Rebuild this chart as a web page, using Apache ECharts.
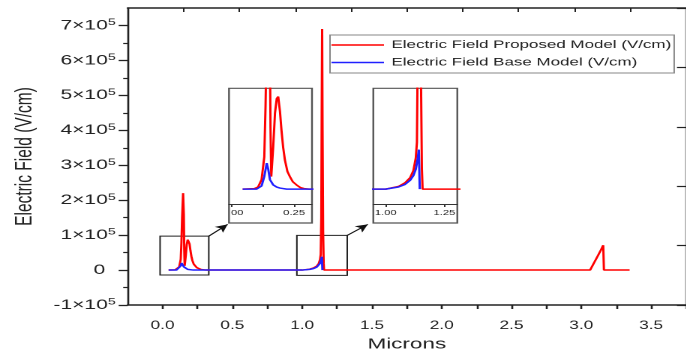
<!DOCTYPE html>
<html><head><meta charset="utf-8">
<script src="https://cdn.jsdelivr.net/npm/echarts@6/dist/echarts.min.js"></script>
<style>
html,body{margin:0;padding:0;background:#fff;overflow:hidden;width:686px;height:359px;}
#c{width:457.333px;height:359px;transform:scaleX(1.5);transform-origin:0 0;}
</style></head><body><div id="c"></div>
<script>
// ---- data (microns, V/cm) ----
const redX = [0.043, 0.090, 0.105, 0.119, 0.130, 0.135, 0.140, 0.147, 0.152, 0.155, 0.158, 0.166, 0.173, 0.180, 0.186, 0.193, 0.199, 0.206, 0.213, 0.223, 0.233, 0.245, 0.260, 0.275, 0.290, 0.310, 1.000, 1.054, 1.082, 1.104, 1.118, 1.128, 1.133, 1.137, 1.140, 1.143, 1.146, 1.150, 1.154, 1.157, 3.063, 3.090, 3.120, 3.140, 3.157, 3.162, 3.346];
const redY = [0, 500, 2000, 9000, 31000, 80000, 150000, 220000, 160000, 60000, 12000, 41000, 73000, 87000, 89000, 75000, 57000, 40000, 28000, 17000, 12000, 7000, 4000, 1500, 500, 0, 0, 2500, 6000, 11000, 18000, 30000, 45000, 150000, 450000, 690000, 400000, 110000, 20000, 0, 0, 20000, 42000, 57000, 71000, 0, 0];
const blueX = [0.043, 0.099, 0.110, 0.119, 0.130, 0.136, 0.140, 0.143, 0.146, 0.153, 0.166, 0.180, 0.193, 0.220, 1.000, 1.054, 1.082, 1.104, 1.118, 1.128, 1.136, 1.141, 1.145];
const blueY = [0, 0, 1000, 3000, 12000, 20000, 25000, 22000, 19000, 9000, 4000, 2000, 1000, 0, 0, 2000, 4500, 8500, 13000, 19000, 29000, 38000, 0];
const seriesNames = ['Electric Field Proposed Model (V/cm)', 'Electric Field Base Model (V/cm)'];

const xTickValues = [0, 0.25, 0.5, 0.75, 1.0, 1.25, 1.5, 1.75, 2.0, 2.25, 2.5, 2.75, 3.0, 3.25, 3.5, 3.75];
const xLabelValues = [0, 0.5, 1.0, 1.5, 2.0, 2.5, 3.0, 3.5];
const xLabels = ['0.0', '0.5', '1.0', '1.5', '2.0', '2.5', '3.0', '3.5'];
const yLabelValues = [-100000, 0, 100000, 200000, 300000, 400000, 500000, 600000, 700000];
const yLabels = ['-1×10^5', '0', '1×10^5', '2×10^5', '3×10^5', '4×10^5', '5×10^5', '6×10^5', '7×10^5'];
const yMinorValues = [-50000, 50000, 150000, 250000, 350000, 450000, 550000, 650000];

// zoom windows (x range, y range) shown as boxes and insets
const zoomBox1 = [[-0.018, -14300], [0.331, 97200]];
const zoomBox2 = [[0.962, -15200], [1.323, 99300]];
const inset1XRange = [-0.012, 0.322];
const inset2XRange = [0.947, 1.305];
const insetYRange = [-32600, 97000];
const inset1Ticks = [0, 0.125, 0.25];
const inset1Labels = ['00', '', '0.25'];
const inset2Ticks = [1.0, 1.125, 1.25];
const inset2Labels = ['1.00', '', '1.25'];
// arrows from boxes to insets
const arrow1 = [[0.331, 97200], [0.466, 130700]];
const arrow2 = [[1.323, 99300], [1.470, 130700]];

const FONT = '"Liberation Sans", Arial, Helvetica, sans-serif';
const INK = '#222';
const RED = '#ff0000';
const BLUE = '#2020ff';

const red = redX.map((x, i) => [x, redY[i]]);
const blue = blueX.map((x, i) => [x, blueY[i]]);

function pick(values, labels) {
  return function (v) {
    for (let i = 0; i < values.length; i++) if (Math.abs(values[i] - v) < 1e-6) return labels[i];
    return '';
  };
}
const xFmt = pick(xLabelValues, xLabels);
const yPick = pick(yLabelValues, yLabels);
const yFmt = function (v) {
  const s = yPick(v);
  if (!s) return '';
  if (s.indexOf('^') >= 0) { const p = s.split('^'); return '{b|' + p[0] + '}{s|' + p[1] + '}'; }
  return '{z|' + s + '}';
};
const in1Pick = pick(inset1Ticks, inset1Labels);
const in1Fmt = function (v) { const s = in1Pick(v); return s === '00' ? '{l|' + s + '}' : s; };
const in2Fmt = pick(inset2Ticks, inset2Labels);

const W = 686 / 1.5;
const chart = echarts.init(document.getElementById('c'), null, { width: W, height: 359, devicePixelRatio: 2 });

const lineSeries = (name, data, color, xi, yi, extra) => Object.assign({
  type: 'line', name: name, data: data, xAxisIndex: xi, yAxisIndex: yi,
  symbol: 'none', smooth: false, clip: true,
  lineStyle: { color: color, width: 1.5 }, itemStyle: { color: color }
}, extra || {});

const insetX = (grid, range, ticks, fmt) => ({
  gridIndex: grid, type: 'value', min: range[0], max: range[1], offset: -19,
  axisLine: { show: true, onZero: false, lineStyle: { color: '#333', width: 1 } },
  axisTick: { show: true, customValues: ticks, length: 3, lineStyle: { color: '#333', width: 1 } },
  axisLabel: { customValues: ticks, formatter: fmt, fontSize: 7.5, margin: 5, color: INK, fontFamily: FONT,
    rich: { l: { fontSize: 7.5, fontFamily: FONT, color: INK, padding: [0, 0, 0, 7] } } },
  splitLine: { show: false }
});
const insetY = (grid) => ({ gridIndex: grid, type: 'value', min: insetYRange[0], max: insetYRange[1], show: false, axisLine: { onZero: false }, splitLine: { show: false } });

chart.setOption({
  animation: false,
  backgroundColor: '#fff',
  textStyle: { fontFamily: FONT },
  grid: [
    { left: 127.7 / 1.5, top: 8, width: (692.4 - 127.7) / 1.5, height: 297, show: false },
    { left: 229 / 1.5, top: 88.3, width: 83 / 1.5, height: 134.7, show: true, borderColor: '#555', borderWidth: 1.2, backgroundColor: '#fff' },
    { left: 373.3 / 1.5, top: 88.3, width: 84 / 1.5, height: 134.7, show: true, borderColor: '#555', borderWidth: 1.2, backgroundColor: '#fff' }
  ],
  legend: {
    data: seriesNames, orient: 'vertical', left: 220, top: 35,
    icon: 'rect', itemWidth: 35, itemHeight: 1.5, itemGap: 6.5,
    padding: [4.5, 2, 5, 1], borderColor: '#888', borderWidth: 1, backgroundColor: '#fff',
    textStyle: { fontSize: 11.3, color: INK, fontFamily: FONT }
  },
  xAxis: [
    { gridIndex: 0, type: 'value', position: 'bottom', min: -0.25, max: 3.75,
      axisLine: { show: true, onZero: false, lineStyle: { color: INK, width: 1.5 } },
      axisTick: { show: true, customValues: xTickValues, length: 4, lineStyle: { color: INK, width: 1.3 } },
      axisLabel: { customValues: xLabelValues, formatter: xFmt, fontSize: 11.5, margin: 15, color: INK, fontFamily: FONT },
      splitLine: { show: false },
      name: 'Microns', nameLocation: 'middle', nameGap: 30,
      nameTextStyle: { fontSize: 15, color: INK, fontFamily: FONT } },
    { gridIndex: 0, type: 'value', position: 'top', min: 0, max: 10, interval: 1,
      axisLine: { show: true, onZero: false, lineStyle: { color: INK, width: 1.5 } },
      axisTick: { show: true, inside: true, length: 4, lineStyle: { color: INK, width: 1 } },
      axisLabel: { show: false }, splitLine: { show: false } },
    insetX(1, inset1XRange, inset1Ticks, in1Fmt),
    insetX(2, inset2XRange, inset2Ticks, in2Fmt)
  ],
  yAxis: [
    { gridIndex: 0, type: 'value', position: 'left', min: -100000, max: 750000,
      axisLine: { show: true, onZero: false, lineStyle: { color: INK, width: 1.3 } },
      axisTick: { show: true, customValues: yLabelValues, length: 6, lineStyle: { color: INK, width: 1.3 } },
      axisLabel: { customValues: yLabelValues, formatter: yFmt, margin: 8, color: INK,
        rich: {
          b: { fontSize: 14, fontFamily: FONT, color: INK, lineHeight: 16 },
          s: { fontSize: 9.5, fontFamily: FONT, color: INK, lineHeight: 10, verticalAlign: 'top' },
          z: { fontSize: 14, fontFamily: FONT, color: INK, lineHeight: 16, padding: [0, 7, 0, 0] }
        } },
      splitLine: { show: false },
      name: 'Electric Field (V/cm)', nameLocation: 'middle', nameGap: 59,
      nameTextStyle: { fontSize: 15.5, color: INK, fontFamily: FONT } },
    { gridIndex: 0, type: 'value', position: 'left', min: -100000, max: 750000,
      axisLine: { show: false, onZero: false }, axisLabel: { show: false }, splitLine: { show: false },
      axisTick: { show: true, customValues: yMinorValues, length: 3, lineStyle: { color: INK, width: 1.2 } } },
    { gridIndex: 0, type: 'value', position: 'right', min: 0, max: 5, interval: 1,
      axisLine: { show: true, onZero: false, lineStyle: { color: INK, width: 1.3 } },
      axisTick: { show: true, inside: true, length: 6, lineStyle: { color: INK, width: 1.2 } },
      axisLabel: { show: false }, splitLine: { show: false } },
    insetY(1),
    insetY(2)
  ],
  series: [
    lineSeries(seriesNames[0], red, RED, 0, 0, { z: 3 }),
    lineSeries(seriesNames[1], blue, BLUE, 0, 0, {
      z: 4,
      markArea: {
        silent: true,
        itemStyle: { color: 'rgba(0,0,0,0)', borderColor: '#222', borderWidth: 1 },
        data: [
          [{ coord: zoomBox1[0] }, { coord: zoomBox1[1] }],
          [{ coord: zoomBox2[0] }, { coord: zoomBox2[1] }]
        ]
      },
      markLine: {
        silent: true, symbol: ['none', 'arrow'], symbolSize: [6, 8],
        label: { show: false },
        lineStyle: { color: '#111', width: 1, type: 'solid' },
        data: [
          [{ coord: arrow1[0] }, { coord: arrow1[1] }],
          [{ coord: arrow2[0] }, { coord: arrow2[1] }]
        ]
      }
    }),
    lineSeries(seriesNames[0], red, RED, 2, 3, { z: 5 }),
    lineSeries(seriesNames[1], blue, BLUE, 2, 3, { z: 6 }),
    lineSeries(seriesNames[0], red, RED, 3, 4, { z: 5 }),
    lineSeries(seriesNames[1], blue, BLUE, 3, 4, { z: 6 })
  ]
});
</script></body></html>
